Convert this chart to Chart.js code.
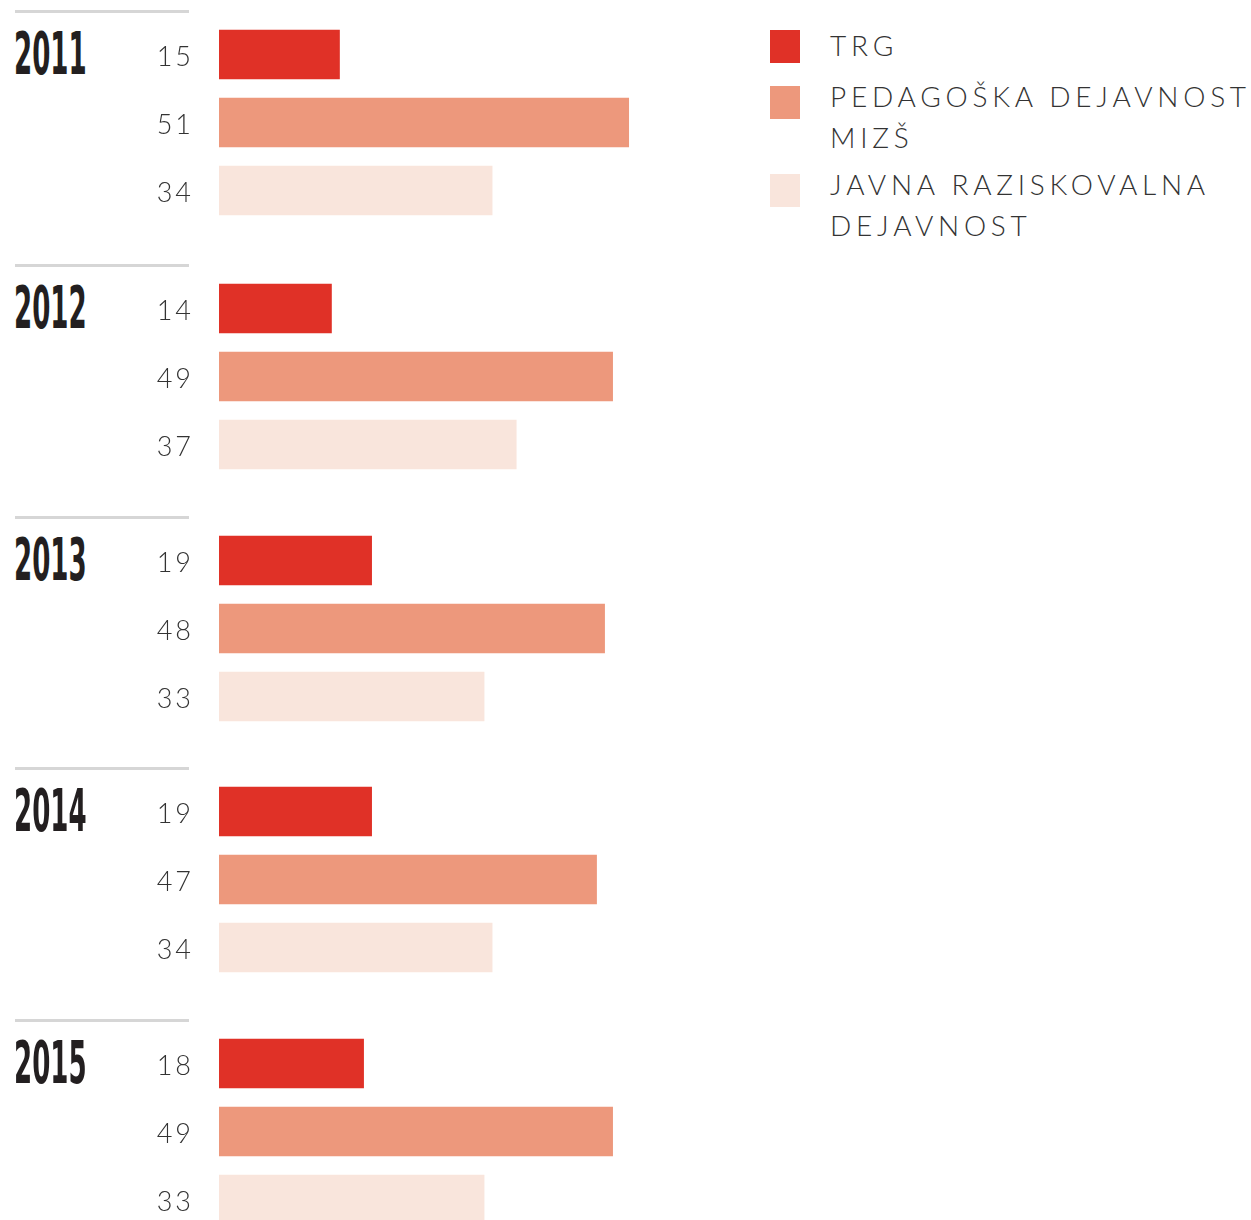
<!DOCTYPE html>
<html>
<head>
<meta charset="utf-8">
<script src="https://cdn.jsdelivr.net/npm/chart.js@4.4.1/dist/chart.umd.min.js"></script>
<style>
  html, body { margin: 0; padding: 0; background: #fff; }
  body { width: 1251px; height: 1220px; position: relative; overflow: hidden; }
  .group { position: absolute; left: 0; width: 720px; height: 252px; }
  .sep { position: absolute; left: 15px; top: 10px; width: 174px; height: 3px; background: #d6d6d6; }
  .year { position: absolute; left: 14px; top: 25px; font-family: "Liberation Sans Narrow", "DejaVu Sans Condensed", sans-serif; font-weight: bold; font-size: 58px; line-height: 58px; color: #231f20; transform: scaleX(0.5); transform-origin: left top; white-space: nowrap; }
  .group canvas { position: absolute; left: 0; top: 0; }
  .legend { position: absolute; left: 770px; top: 0; }
  .lg-sw { position: absolute; left: 0; width: 30px; height: 33px; }
  .lg-tx { position: absolute; left: 60px; white-space: nowrap; font-family: Lato, "Open Sans", sans-serif; font-weight: 300; font-size: 28px; line-height: 41px; letter-spacing: 0.17em; color: #333; }
</style>
</head>
<body>
<div id="root"></div>
<script>
// ---- data ----
const years = ['2011', '2012', '2013', '2014', '2015'];
const seriesNames = ['TRG', 'PEDAGOŠKA DEJAVNOST MIZŠ', 'JAVNA RAZISKOVALNA DEJAVNOST'];
const legendLines = [['TRG'], ['PEDAGOŠKA DEJAVNOST', 'MIZŠ'], ['JAVNA RAZISKOVALNA', 'DEJAVNOST']];
const trg = [15, 14, 19, 19, 18];
const pedagoska = [51, 49, 48, 47, 49];
const javna = [34, 37, 33, 34, 33];
const colors = ['#E03127', '#ED987C', '#F9E5DC'];

// ---- layout ----
const groupTops = [0, 254, 506, 757, 1009];
const root = document.getElementById('root');

const spacingPlugin = {
  id: 'tickSpacing',
  beforeDraw(chart) { chart.ctx.letterSpacing = '3px'; }
};

years.forEach((yr, i) => {
  const g = document.createElement('div');
  g.className = 'group';
  g.style.top = groupTops[i] + 'px';
  const sep = document.createElement('div'); sep.className = 'sep'; g.appendChild(sep);
  const y = document.createElement('div'); y.className = 'year'; y.textContent = yr; g.appendChild(y);
  const c = document.createElement('canvas');
  c.width = 701; c.height = 252;
  c.style.width = '701px'; c.style.height = '252px';
  g.appendChild(c);
  root.appendChild(g);

  const values = [trg[i], pedagoska[i], javna[i]];
  new Chart(c, {
    type: 'bar',
    data: {
      labels: seriesNames,
      datasets: [{
        data: values,
        backgroundColor: colors,
        borderWidth: 0,
        barThickness: 49
      }]
    },
    options: {
      indexAxis: 'y',
      responsive: false,
      animation: false,
      layout: { padding: { top: 20.5, bottom: 27.5, left: 0, right: 0 } },
      plugins: { legend: { display: false }, tooltip: { enabled: false } },
      scales: {
        x: { display: false, min: 0, max: 60 },
        y: {
          grid: { display: false, drawTicks: false },
          border: { display: false },
          ticks: {
            padding: 25,
            labelOffset: 3,
            color: '#333',
            font: { family: 'Lato, "Open Sans", sans-serif', size: 27, weight: 300 },
            callback: (v, idx) => String(values[idx])
          },
          afterFit: (scale) => { scale.width = 219; scale.paddingTop = 0; scale.paddingBottom = 0; }
        }
      }
    },
    plugins: [spacingPlugin]
  });
});

// legend
const lg = document.createElement('div');
lg.className = 'legend';
const swTops = [30, 86, 174];
const txTops = [25, 76, 164];
seriesNames.forEach((name, k) => {
  const sw = document.createElement('div'); sw.className = 'lg-sw';
  sw.style.background = colors[k]; sw.style.top = swTops[k] + 'px';
  lg.appendChild(sw);
  const tx = document.createElement('div'); tx.className = 'lg-tx';
  tx.style.top = txTops[k] + 'px';
  tx.innerHTML = legendLines[k].join('<br>');
  lg.appendChild(tx);
});
root.appendChild(lg);
</script>
</body>
</html>
